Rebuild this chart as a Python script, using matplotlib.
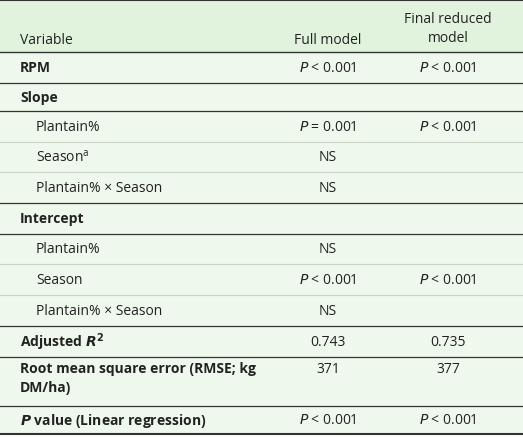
import matplotlib.pyplot as plt

plt.rcParams["font.family"] = ["Open Sans", "DejaVu Sans"]

# table content
labels = ["RPM", "Slope", "Plantain%", "Season$^{\\mathregular{a}}$", "Plantain% × Season",
          "Intercept", "Plantain%", "Season", "Plantain% × Season",
          "Adjusted $\\boldsymbol{R}^{\\mathbf{2}}$", "Root mean square error (RMSE; kg\nDM/ha)",
          "$\\boldsymbol{P}$ value (Linear regression)"]
is_group = [True, True, False, False, False, True, False, False, False, True, True, True]
full_model = ["$P$ < 0.001", "", "$P$ = 0.001", "NS", "NS", "", "NS", "$P$ < 0.001", "NS",
              "0.743", "371", "$P$ < 0.001"]
reduced_model = ["$P$ < 0.001", "", "$P$ < 0.001", "", "", "", "", "$P$ < 0.001", "",
                 "0.735", "377", "$P$ < 0.001"]
# row boundaries in pixels from top
edges = [53, 84, 112, 143, 173, 204, 235, 265, 296, 327, 358, 407, 435]
dark_after = {0, 1, 4, 5, 8, 9, 10, 11}

W, H = 523, 439
fig = plt.figure(figsize=(W / 100, H / 100), dpi=100)
ax = fig.add_axes([0, 0, 1, 1])
ax.set_xlim(0, W)
ax.set_ylim(H, 0)
ax.axis("off")

ax.add_patch(plt.Rectangle((0, 0), W, edges[0], color="#e1f3dc", lw=0))
ax.add_patch(plt.Rectangle((0, edges[0]), W, edges[-1] - edges[0], color="#eff8ed", lw=0))
ax.plot([0, W], [1, 1], color="#333333", lw=1.5)
ax.plot([0, W], [edges[0], edges[0]], color="#333333", lw=1)

fs = 10
ax.text(20, 40, "Variable", fontsize=fs, va="center", color="#222222")
ax.text(328, 40, "Full model", fontsize=fs, va="center", ha="center", color="#222222")
ax.text(448, 29, "Final reduced\nmodel", fontsize=fs, va="center", ha="center",
        color="#222222", linespacing=1.3)

for i, lab in enumerate(labels):
    top, bot = edges[i], edges[i + 1]
    yc = (top + bot) / 2
    if i == 10:
        ax.text(20, top + 4, lab, fontsize=fs, va="top", fontweight="bold",
                color="#222222", linespacing=1.5)
        ytxt = top + 12
    else:
        x = 20 if is_group[i] else 36
        ax.text(x, yc, lab, fontsize=fs, va="center",
                fontweight="bold" if is_group[i] else "normal", color="#222222")
        ytxt = yc
    ax.text(328, ytxt, full_model[i], fontsize=fs, va="center", ha="center", color="#222222")
    ax.text(448, ytxt, reduced_model[i], fontsize=fs, va="center", ha="center", color="#222222")
    if i == len(labels) - 1:
        ax.plot([0, W], [bot, bot], color="#333333", lw=1.5)
    elif i in dark_after:
        ax.plot([0, W], [bot, bot], color="#333333", lw=0.9)
    else:
        ax.plot([0, W], [bot, bot], color="#c9d3c6", lw=0.8)

fig.savefig("out.png", dpi=100)
